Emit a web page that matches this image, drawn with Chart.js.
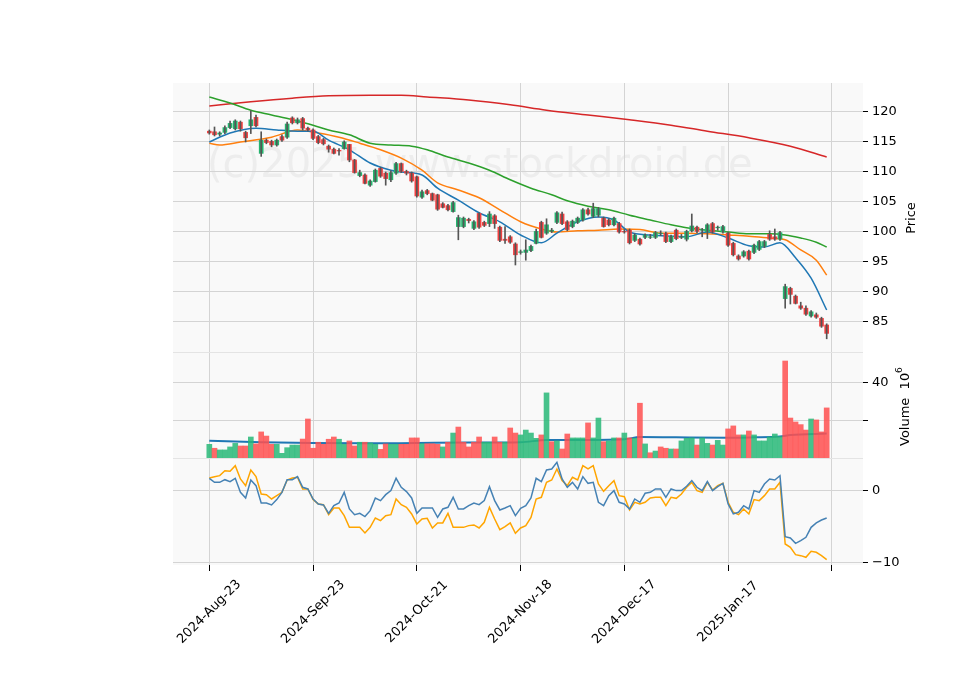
<!DOCTYPE html>
<html>
<head>
<meta charset="utf-8">
<script src="https://cdn.jsdelivr.net/npm/chart.js@4.4.1/dist/chart.umd.min.js"></script>
<style>
  html, body { margin: 0; padding: 0; background: #fff; }
  #wrap { width: 960px; height: 690px; }
</style>
</head>
<body>
<div id="wrap"><canvas id="stockChart" width="960" height="690"></canvas></div>
<script>
// x tick labels (every 20 trading days)
var tickIdx = [0, 20, 40, 60, 80, 100, 120];
var tickLabels = ['2024-Aug-23', '2024-Sep-23', '2024-Oct-21', '2024-Nov-18', '2024-Dec-17', '2025-Jan-17', ''];

var openP = [116.8,116.7,116.3,116.6,117.4,117.2,118.3,116.6,117.7,119.1,113.1,115.3,115.1,114.5,115.9,115.8,119,118.2,118.9,117.3,
  117,115.9,115.4,114.3,113.8,113.6,113.9,114.6,112,109.4,109.5,107.8,108.4,110.6,109.8,108.7,109.8,111.4,110.1,109.8,
  109.2,105.8,106.9,106.4,106.2,104.7,104.4,103.4,100.9,100.9,102.1,100.6,103.1,101.6,101.4,102.7,100.8,98.8,99.2,98,
  96.6,96.6,96.9,98.1,101.6,99.8,100.1,101.6,103,101.7,100.9,101.6,102,103.7,102.6,102.8,102.3,102,101.2,101.4,
  100.1,100.3,98.6,98.8,99.1,99.1,99.1,99.7,99.8,98.4,100.3,99.1,98.8,100.2,100.8,100.3,100,101.4,100.7,100,
  99.8,98.1,96,96,96.8,96.6,97.1,97.6,99.6,99.2,98.8,88.9,90.6,89.3,87.7,87.3,86,86.2,85.6,84.5];
var highP = [117,117.5,116.7,117.7,118.5,118.7,118.5,116.8,120.2,119.5,116.7,115.5,115.3,115.5,116.2,118.3,119.2,119,119.1,117.5,
  117.2,116.1,115.6,114.5,114,113.9,115.2,114.6,112.1,110.3,109.7,108.7,110.5,110.8,110,110.2,111.6,111.5,110.3,110,
  109.3,107,107.1,106.5,106.3,104.9,104.6,105.1,102.8,102.5,102.3,101.9,103.2,101.8,103.4,102.9,101,100.9,99.4,98.2,
  97,98.7,97.8,100.5,101.8,102.2,100.6,103.4,103.3,101.9,102,102.5,103.9,104,104.8,104.1,102.5,102.2,102.5,101.6,
  100.4,100.5,99.7,99,99.7,99.6,100.1,100.2,100,99.5,100.5,99.6,100.3,103,101,100.6,101.4,101.6,101,101.1,
  100,98.3,96.2,96.9,97,98,98.6,98.6,100.2,100.5,100.1,91.3,90.8,89.5,88.3,87.7,86.9,86.5,85.8,84.7];
var lowP = [116.3,116,116,116.4,117.2,117,116.8,115,116.4,117.5,112.6,114.7,114.2,114.3,115.1,115.6,118,118,117,116.8,
  115.4,114.7,114.5,113.3,113,112.8,113.8,111.7,109.8,109.2,108,107.6,108.3,109.1,107.8,108.4,109.6,109.9,109.5,108.3,
  105.8,105.6,106.2,105.2,103.6,104,103.5,103.3,98.7,100.7,101.5,100.4,100.6,100.9,100.9,100.6,98.4,98.1,98.1,94.5,
  96.3,95.3,96.7,98,99,99.6,99.9,101.4,101.2,100.2,100.7,101.4,101.8,102.8,102.4,102.5,100.8,101,101,99.8,
  99.8,98,98.4,97.8,98.9,98.9,98.9,99.4,98.2,98.2,98.7,98.9,98.5,100,99.9,99.2,98.9,99.8,100.3,99.8,
  97.6,96,95.3,95.8,95.3,96.4,96.9,97.4,98.6,98.6,98.6,87.3,88,88,87.1,86.1,85.8,85.6,84.1,82.2];
var closeP = [116.5,116.2,116.5,117.4,118.1,118.5,117.2,115.7,118.7,117.7,115.3,114.9,114.5,115.3,115.3,118,118.2,118.7,117.3,117,
  115.6,114.9,114.7,113.8,113.1,113.5,115,112,109.9,109.9,108.1,108.5,110.3,109.3,108.9,109.9,111.4,110.1,109.8,108.5,
  106,106.7,106.4,105.3,103.8,104.1,103.7,104.9,102.4,102.3,101.9,101.7,100.8,101.1,103,101.4,98.6,98.6,98.3,96.2,
  96.7,97,97.6,100.1,99.1,101.2,100.3,103.2,101.4,100.4,101.8,102.3,103.7,103,103.9,103.9,100.9,101.2,102.3,100,
  100,98.2,99.5,98,99.5,99.2,99.9,99.8,98.4,99.3,98.9,99.2,100.1,101,100.1,100.4,101.2,100,100.8,100.9,
  97.8,96.2,95.5,96.7,95.5,97.8,98.4,98.4,98.8,98.8,99.9,90.9,89.6,88.1,87.3,86.3,86.7,85.8,84.3,83.1];

// moving averages read at sample days: [day, value]
var maBlue = [[0,115],[4,116.5],[9,117.3],[13,117],[17,116.8],[20,116.8],[23,115.3],[27,113.7],[31,111.5],[35,110.3],[37,110],
  [41,109.5],[44,107.3],[48,105.3],[52,103.2],[56,101.7],[60,99.5],[64,98.2],[67,99.8],[71,101.7],[75,102.5],[78,102],
  [81,100],[85,99.5],[89,99.3],[92,99.2],[96,100],[100,99],[104,97.7],[107,97.5],[110,98.2],[113,95.7],[116,92.3],[119,87]];
var maOrange = [[0,114.8],[2,114.5],[6,115],[12,115.8],[17,117],[21,116.5],[25,115.8],[29,114.8],[33,113.7],[37,112.3],
  [41,110.3],[44,108.2],[48,107],[52,105.7],[56,103.7],[60,101.7],[64,100.5],[67,100],[71,100.2],[75,100.3],[79,100.5],
  [83,100.4],[87,99.8],[92,99.8],[96,99.7],[100,99.5],[104,99.3],[108,99],[111,98.7],[114,97],[117,95.3],[119,92.8]];
var maGreen = [[0,122.5],[4,121.5],[8,120.3],[12,119.5],[16,118.7],[20,117.8],[23,117],[27,116.2],[31,114.8],[35,114.5],
  [39,114.3],[42,113.7],[46,112.5],[50,111.5],[54,110.3],[58,108.7],[62,107.3],[66,106.2],[69,105.2],[73,104.3],[77,103.7],
  [81,102.8],[85,102],[89,101.2],[92,100.7],[96,100.3],[100,100],[104,99.7],[108,99.7],[111,99.5],[114,99],[117,98.3],[119,97.5]];
var maRed = [[0,121],[8,121.7],[16,122.3],[23,122.7],[31,122.8],[37,122.8],[42,122.5],[50,122],[58,121.2],[65,120.3],
  [73,119.5],[81,118.7],[89,117.8],[96,116.8],[104,115.7],[112,114.3],[119,112.5]];

// volume in millions
var volume = [7.3,5.2,4.3,4.3,5.9,7.8,6.4,6.4,11.2,7.5,13.9,11.7,7.3,7.3,2.5,5.5,6.9,6.9,10.1,20.8,
  5.2,8.4,7.3,10.0,11.2,10.0,7.3,9.1,6.4,8.4,8.4,8.0,7.3,4.6,7.5,7.3,7.3,7.3,7.3,10.7,
  10.7,7.6,7.6,7.6,7.3,5.9,8.4,13.3,16.5,8.4,5.9,8.4,11.2,8.4,8.4,11.2,8.4,8.4,16.0,13.3,
  12.3,14.9,13.3,10.5,12.3,34.7,8.7,9.1,4.8,12.8,10.7,10.7,10.7,18.7,10.7,21.3,8.7,9.1,10.7,10.7,
  13.3,10.7,10.5,29.2,7.5,2.8,3.7,5.9,5.2,4.8,4.8,9.1,10.5,10.7,6.9,10.7,7.8,6.9,9.4,6.9,
  15.5,17.1,12.3,12.3,14.4,12.3,9.1,9.1,11.2,12.8,11.4,51.7,21.3,19.2,17.8,14.9,20.8,20.3,13.9,26.7];
var volMa = [[0,9.2],[10,8.4],[20,8.0],[30,7.8],[40,8.0],[50,8.2],[60,8.4],[65,9.6],[70,9.6],[80,10.0],[83,11.2],
  [90,11.0],[100,10.8],[105,11.0],[110,11.4],[112,12.3],[119,13.0]];

var oscBlue = [1.76,1.2,1.2,1.57,1.3,1.76,-0.19,-0.97,1.53,0.74,-1.67,-1.67,-1.94,-1.2,-0.19,1.57,1.57,1.99,0.51,0.28,
  -1.11,-1.8,-1.94,-3.1,-2.04,-1.67,-0.19,-2.5,-3.29,-3.1,-3.56,-2.73,-0.97,-1.34,-0.51,0.05,1.76,0.51,-0.09,-0.97,
  -3.1,-2.36,-2.36,-2.36,-3.66,-2.5,-2.27,-0.88,-2.5,-2.5,-2.04,-1.67,-1.9,-1.34,0.6,-1.34,-2.64,-2.36,-2.04,-3.43,
  -2.41,-2.04,-0.97,1.76,1.3,2.92,3.06,3.98,1.67,0.51,1.2,0.28,1.99,1.06,1.2,-1.57,-2.04,-0.65,0.05,-1.57,
  -1.8,-2.5,-1.11,-1.57,-0.32,-0.19,0.28,0.28,-0.88,0.28,0.05,0.05,0.65,1.44,0.51,0.05,1.3,0.05,0.6,1.06,
  -1.8,-3.19,-2.96,-2.04,-2.5,0.05,-0.19,0.97,1.67,1.53,2.13,-6.34,-6.53,-7.27,-6.9,-6.44,-5.05,-4.44,-4.03,-3.75];
var oscOrange = [1.81,1.99,2.13,2.82,2.73,3.52,1.67,0.74,2.92,1.99,-0.42,-0.51,-1.11,-0.65,-0.19,1.53,1.81,1.9,0.28,0.28,
  -1.2,-1.8,-1.9,-3.29,-2.36,-2.36,-3.43,-5.05,-5.05,-5.05,-5.83,-5.05,-3.75,-4.12,-3.43,-3.29,-1.11,-1.9,-2.27,-3.19,
  -4.58,-3.89,-3.8,-5.14,-4.44,-4.44,-3.1,-5.05,-5.05,-5.05,-4.81,-4.72,-5.14,-4.35,-2.27,-3.89,-5.37,-4.95,-4.44,-5.88,
  -5.14,-4.81,-3.66,-1.11,-0.88,1.2,1.53,3.06,1.44,0.74,1.9,1.53,3.52,3.06,3.52,0.97,-0.05,0.74,1.44,-0.65,
  -0.79,-2.64,-1.57,-1.8,-1.57,-0.97,-0.88,-0.88,-2.04,-0.88,-1.02,-0.42,0.51,1.2,0.05,-0.19,1.2,0.14,0.74,1.06,
  -1.57,-2.96,-3.29,-2.5,-3.19,-1.2,-1.34,-0.65,0.28,0.28,1.2,-7.36,-7.82,-8.84,-8.98,-9.21,-8.38,-8.52,-8.98,-9.54];

var days = closeP.map(function (c, i) { return i; });
var candleUp = '#26b36e', candleDown = '#f04040';

function pts(arr) { return arr.map(function (p) { return { x: p[0], y: p[1] }; }); }
function lineDs(data, color, axis, width) {
  return { type: 'line', data: data, yAxisID: axis, borderColor: color, borderWidth: width || 1.5,
    pointRadius: 0, cubicInterpolationMode: 'monotone', fill: false };
}

var bodyColors = days.map(function (i) { return closeP[i] >= openP[i] ? candleUp : candleDown; });
var volColors = days.map(function (i) {
  return (i === 0 || closeP[i] >= closeP[i - 1]) ? 'rgba(40,185,120,0.85)' : 'rgba(255,80,80,0.85)';
});

var panes = {
  id: 'panes',
  beforeDraw: function (chart) {
    var a = chart.chartArea, c = chart.ctx;
    c.save();
    c.fillStyle = '#f9f9f9';
    c.fillRect(a.left, a.top, a.right - a.left, a.bottom - a.top);
    c.font = '40px "DejaVu Sans"';
    c.fillStyle = 'rgba(120,120,120,0.09)';
    c.textBaseline = 'alphabetic';
    c.fillText('(c)2025 www.stockdroid.de', 207, 177);
    c.restore();
  },
  afterDraw: function (chart) {
    var c = chart.ctx, x = chart.scales.x, a = chart.chartArea;
    c.save();
    c.strokeStyle = '#e4e4e4';
    c.lineWidth = 1;
    [chart.scales.y.bottom, chart.scales.yVol.bottom].forEach(function (yy) {
      c.beginPath(); c.moveTo(a.left, yy + 0.5); c.lineTo(a.right, yy + 0.5); c.stroke();
    });
    c.fillStyle = '#000';
    c.font = '13px "DejaVu Sans"';
    c.textAlign = 'center';
    c.textBaseline = 'middle';
    tickIdx.forEach(function (t, k) {
      if (!tickLabels[k]) return;
      var px = x.getPixelForValue(t);
      c.save();
      c.translate(px, 612);
      c.rotate(-Math.PI / 4);
      c.fillText(tickLabels[k], 0, 0);
      c.restore();
    });
    c.save();
    c.translate(912, 218);
    c.rotate(-Math.PI / 2);
    c.fillText('Price', 0, 0);
    c.restore();
    c.save();
    c.translate(906, 404);
    c.rotate(-Math.PI / 2);
    c.textAlign = 'left';
    c.fillText('Volume  10', -42, 0);
    c.font = '9px "DejaVu Sans"';
    c.fillText('6', 31, -6);
    c.restore();
    c.restore();
  }
};

var gridCol = '#d4d4d4';
function yAxis(min, max, weight, ticksAt, showLabel) {
  return {
    type: 'linear', position: 'right', stack: 'p', stackWeight: weight, min: min, max: max,
    border: { display: false },
    grid: { color: gridCol, tickLength: 5, tickColor: '#000' },
    afterBuildTicks: function (s) { s.ticks = ticksAt.map(function (v) { return { value: v }; }); },
    afterFit: function (s) { s.width = 97; },
    ticks: { color: '#000', font: { family: 'DejaVu Sans', size: 13 }, padding: 4,
      callback: function (v) { return showLabel(v) ? (v < 0 ? '\u2212' + Math.abs(v) : String(v)) : ''; } }
  };
}

new Chart(document.getElementById('stockChart'), {
  data: {
    datasets: [
      { type: 'bar', yAxisID: 'y', grouped: false, barThickness: 1, backgroundColor: '#555',
        data: days.map(function (i) { return { x: i, y: [lowP[i], highP[i]] }; }) },
      { type: 'bar', yAxisID: 'y', grouped: false, barThickness: 4, backgroundColor: bodyColors,
        data: days.map(function (i) {
          var o = openP[i], c = closeP[i];
          if (Math.abs(o - c) < 0.08) c = o - 0.08;
          return { x: i, y: [o, c] };
        }) },
      lineDs(pts(maBlue), '#1f77b4', 'y'),
      lineDs(pts(maOrange), '#ff7f0e', 'y'),
      lineDs(pts(maGreen), '#2ca02c', 'y'),
      lineDs(pts(maRed), '#d62728', 'y'),
      { type: 'bar', yAxisID: 'yVol', grouped: false, barThickness: 5, backgroundColor: volColors,
        data: days.map(function (i) { return { x: i, y: volume[i] }; }) },
      lineDs(pts(volMa), '#1f77b4', 'yVol', 2),
      { type: 'line', yAxisID: 'yOsc', borderColor: '#4682b4', borderWidth: 1.5, pointRadius: 0,
        data: days.map(function (i) { return { x: i, y: oscBlue[i] }; }) },
      { type: 'line', yAxisID: 'yOsc', borderColor: '#ffa500', borderWidth: 1.5, pointRadius: 0,
        data: days.map(function (i) { return { x: i, y: oscOrange[i] }; }) }
    ]
  },
  options: {
    responsive: false,
    animation: false,
    layout: { padding: { left: 173, top: 83, right: 0, bottom: 0 } },
    plugins: { legend: { display: false }, tooltip: { enabled: false } },
    scales: {
      x: {
        type: 'linear', min: -7, max: 126, offset: false,
        border: { display: false },
        grid: { color: gridCol, tickLength: 6, tickColor: '#000', offset: false },
        afterBuildTicks: function (s) { s.ticks = tickIdx.map(function (v) { return { value: v }; }); },
        afterFit: function (s) { s.height = 125; },
        ticks: { display: true, color: 'rgba(0,0,0,0)', callback: function () { return ''; } }
      },
      y: yAxis(80, 124.83, 269, [85, 90, 95, 100, 105, 110, 115, 120], function () { return true; }),
      yVol: yAxis(0, 56.5, 106, [20, 40], function (v) { return v === 40; }),
      yOsc: yAxis(-10.28, 4.58, 107, [-10, 0], function () { return true; })
    }
  },
  plugins: [panes]
});
</script>
</body>
</html>
